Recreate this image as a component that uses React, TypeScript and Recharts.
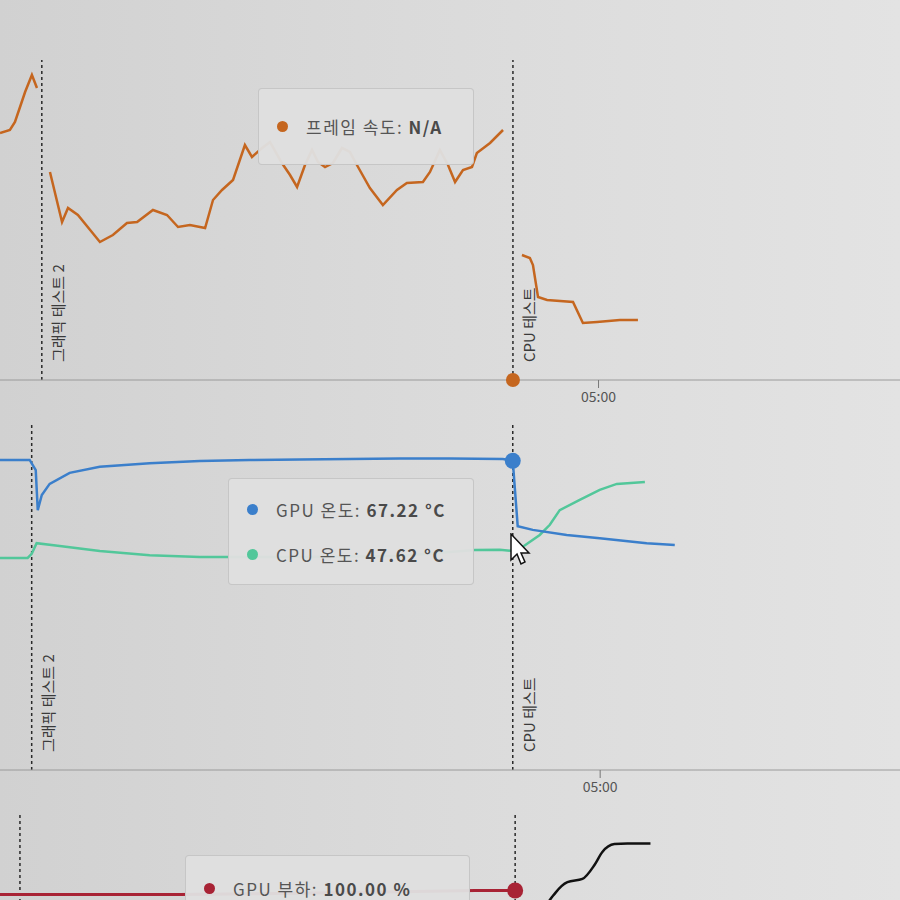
import { LineChart, Line, XAxis, YAxis, ReferenceLine, ReferenceDot } from 'recharts';

// time axis in seconds, shared by all three panels
const X_DOMAIN: [number, number] = [28, 437];
const TIME_TICKS = [300];
const GFX_TEST_T = 47;
const CPU_TEST_T = 261.1;
const GFX_TEST_LABEL = '그래픽 테스트 2';
const CPU_TEST_LABEL = 'CPU 테스트';

// panel 1: frame rate
const fpsTime = [28.0, 32.5, 34.8, 37.1, 39.4, 42.5, 44.8, 48.0, 50.7, 56.2, 58.9, 63.4, 73.4, 79.3, 85.7, 90.3, 97.5, 103.9, 108.9, 114.3, 121.2, 124.8, 128.9, 133.9, 139.3, 142.5, 147.1, 150.7, 156.1, 159.8, 163.0, 166.6, 169.8, 172.5, 175.7, 179.3, 183.4, 187.0, 190.2, 196.1, 202.0, 208.4, 212.9, 220.2, 223.4, 227.9, 231.6, 234.8, 238.4, 242.5, 244.7, 250.7, 256.6, 261.1, 265.2, 268.8, 270.2, 272.5, 276.6, 288.4, 292.9, 299.3, 309.7, 317.9];
const frameRate = [123.5, 125, 129, 136.5, 144, 152.5, 146, null, 104, 79, 86, 82.5, 69, 72.5, 78.5, 79, 85, 82.5, 76.5, 77.5, 76, 90, 95, 100, 117.5, 111.5, 116, 119, 108.5, 102.5, 96.5, 107.5, 115, 109, 106.5, 108.5, 116, 114, 107.5, 96, 87.5, 95, 98.5, 99, 104, 115, 107.5, 99, 105, 106.5, 113.5, 118.5, 125, null, 62.5, 61, 57.5, 41.5, 40, 39, 28.5, 29, 30, 30];

// panel 2: temperatures
const gpuTempTime = [32.8, 46.1, 48.8, 49.7, 51.5, 55.0, 63.9, 77.3, 99.5, 121.8, 144.0, 166.3, 188.6, 210.8, 233.1, 256.7, 261.1, 263.3, 270.0, 285.1, 299.8, 320.7, 333.2];
const gpuTemp = [67.4, 67.4, 65.2, 56.5, 59.8, 62.2, 64.6, 65.9, 66.7, 67.2, 67.4, 67.5, 67.6, 67.7, 67.7, 67.6, 67.22, 53.0, 52.2, 51.1, 50.4, 49.3, 48.9];
const cpuTempTime = [32.8, 45.2, 47.0, 49.2, 59.5, 77.3, 99.5, 121.8, 132.9, 166.3, 210.8, 244.2, 255.3, 261.1, 266.4, 273.1, 277.6, 282.0, 290.9, 299.8, 307.4, 319.9];
const cpuTemp = [46.1, 46.1, 47.0, 49.3, 48.7, 47.6, 46.7, 46.3, 46.3, 46.3, 46.5, 47.8, 47.9, 47.62, 48.8, 51.1, 53.3, 56.5, 58.7, 60.9, 62.2, 62.6];

// panel 3: load
const gpuLoadTime = [38.3, 81.6, 116.1, 168.0, 211.0, 243.8, 256.8, 261.1];
const gpuLoad = [98.5, 98.5, 98.5, 99, 99.5, 100, 100, 100];
const cpuLoadTime = [261.5, 268.0, 272.9, 278.5, 283.7, 290.2, 295.4, 298.8, 304.0, 309.6, 319.6];
const cpuLoad = [30, 62, 77.4, 84.4, 87.8, 88.8, 93.2, 97.3, 99.8, 100, 100];

const ORANGE = '#c5661f';
const BLUE = '#3b7fcb';
const GREEN = '#52c79a';
const RED = '#a82335';
const FONT = '"Noto Sans CJK KR", "Noto Sans", sans-serif';

const zip = (ts: number[], vs: (number | null)[]) => ts.map((t, i) => ({ t, v: vs[i] }));

const fmtTime = (s: number) => {
  const m = Math.floor(s / 60);
  const r = Math.round(s % 60);
  return `${String(m).padStart(2, '0')}:${String(r).padStart(2, '0')}`;
};

function VLabel(props: any) {
  const { viewBox, value } = props;
  if (!viewBox) return null;
  const x = viewBox.x + 22;
  const y = viewBox.y + viewBox.height - 18;
  return (
    <text x={x} y={y} transform={`rotate(-90 ${x} ${y})`} fontSize={15} fill="#3a3a3a" fontFamily={FONT}>
      {value}
    </text>
  );
}

const refLines = (withLabels: boolean, yAxisId?: string) => [
  <ReferenceLine key="g" x={GFX_TEST_T} yAxisId={yAxisId} stroke="#2a2a2a" strokeWidth={1.5} strokeDasharray="3 3"
    label={withLabels ? (p: any) => <VLabel {...p} value={GFX_TEST_LABEL} /> : undefined} />,
  <ReferenceLine key="c" x={CPU_TEST_T} yAxisId={yAxisId} stroke="#2a2a2a" strokeWidth={1.5} strokeDasharray="3 3"
    label={withLabels ? (p: any) => <VLabel {...p} value={CPU_TEST_LABEL} /> : undefined} />,
];

const xAxis = (showTicks = true) => (
  <XAxis
    dataKey="t"
    type="number"
    domain={X_DOMAIN}
    allowDataOverflow
    ticks={TIME_TICKS}
    tickFormatter={fmtTime}
    height={40}
    axisLine={{ stroke: '#9a9a9a' }}
    tickLine={showTicks ? { stroke: '#777' } : false}
    tickSize={8}
    tickMargin={4}
    tick={showTicks ? { fontSize: 14, fill: '#555', fontFamily: FONT } : false}
  />
);

function TipBox({ left, top, width, height, rows }: any) {
  return (
    <div
      style={{
        position: 'absolute', left, top, width, height, boxSizing: 'border-box',
        background: 'rgba(223,223,223,0.96)', border: '1px solid rgba(195,195,195,0.9)',
        borderRadius: 4, fontFamily: FONT, fontSize: 17, letterSpacing: 1.5, color: '#555', paddingLeft: 18,
        display: 'flex', flexDirection: 'column', justifyContent: 'center', gap: 20,
      }}
    >
      {rows.map((r: any) => (
        <div key={r.name} style={{ display: 'flex', alignItems: 'center', whiteSpace: 'nowrap' }}>
          <span style={{ width: 11, height: 11, borderRadius: 6, background: r.color, marginRight: 18 }} />
          <span>{r.name}:</span>
          <b style={{ color: '#4a4a4a' }}>&nbsp;{r.value}</b>
        </div>
      ))}
    </div>
  );
}

export default function App() {
  return (
    <div
      style={{
        position: 'fixed', left: 0, top: 0, width: 900, height: 900, overflow: 'hidden',
        background: 'linear-gradient(90deg, #d1d1d1 0%, #dadada 45%, #e3e3e3 100%)',
      }}
    >
      {/* frame rate */}
      <div style={{ position: 'absolute', left: 0, top: 0 }}>
        <LineChart width={900} height={420} margin={{ top: 60, right: 0, bottom: 0, left: 0 }}>
          {xAxis()}
          <YAxis hide domain={[0, 160]} />
          {refLines(true)}
          <Line data={zip(fpsTime, frameRate)} dataKey="v" type="linear" stroke={ORANGE} strokeWidth={2.5}
            dot={false} connectNulls={false} isAnimationActive={false} />
          <ReferenceDot x={CPU_TEST_T} y={0} r={7} fill={ORANGE} stroke="none" />
        </LineChart>
      </div>

      {/* temperatures */}
      <div style={{ position: 'absolute', left: -11, top: 420 }}>
        <LineChart width={919} height={390} margin={{ top: 5, right: 0, bottom: 0, left: 0 }}>
          {xAxis()}
          <YAxis hide domain={[0, 75]} />
          {refLines(true)}
          <Line data={zip(cpuTempTime, cpuTemp)} dataKey="v" type="linear" stroke={GREEN} strokeWidth={2.5}
            dot={false} isAnimationActive={false} />
          <Line data={zip(gpuTempTime, gpuTemp)} dataKey="v" type="linear" stroke={BLUE} strokeWidth={2.5}
            dot={false} isAnimationActive={false} />
          <ReferenceDot x={CPU_TEST_T} y={67.22} r={8} fill={BLUE} stroke="none" />
        </LineChart>
      </div>

      {/* load: its lower part lies below the visible area */}
      <div style={{ position: 'absolute', left: -24, top: 810 }}>
        <LineChart width={946} height={390} margin={{ top: 5, right: 0, bottom: 0, left: 0 }}>
          {xAxis(false)}
          <YAxis yAxisId="gpu" hide domain={[0, 128]} />
          <YAxis yAxisId="cpu" hide domain={[0, 109]} orientation="right" />
          {refLines(false, 'gpu')}
          <Line yAxisId="gpu" data={zip(gpuLoadTime, gpuLoad)} dataKey="v" type="linear" stroke={RED}
            strokeWidth={3} dot={false} isAnimationActive={false} />
          <Line yAxisId="cpu" data={zip(cpuLoadTime, cpuLoad)} dataKey="v" type="monotone" stroke="#111"
            strokeWidth={2.5} dot={false} isAnimationActive={false} />
          <ReferenceDot yAxisId="gpu" x={CPU_TEST_T} y={100} r={8} fill={RED} stroke="none" />
        </LineChart>
      </div>

      <TipBox left={258} top={88} width={216} height={77}
        rows={[{ name: '프레임 속도', value: 'N/A', color: ORANGE }]} />
      <TipBox left={228} top={478} width={246} height={107}
        rows={[
          { name: 'GPU 온도', value: '67.22 °C', color: BLUE },
          { name: 'CPU 온도', value: '47.62 °C', color: GREEN },
        ]} />
      <TipBox left={185} top={855} width={285} height={66}
        rows={[{ name: 'GPU 부하', value: '100.00 %', color: RED }]} />

      {/* mouse pointer */}
      <svg style={{ position: 'absolute', left: 510, top: 533 }} width={24} height={36}>
        <path d="M1 1 L1 27 L7 21 L11 31 L15 29 L11 20 L19 20 Z" fill="#fff" stroke="#111" strokeWidth={1.5} />
      </svg>
    </div>
  );
}
